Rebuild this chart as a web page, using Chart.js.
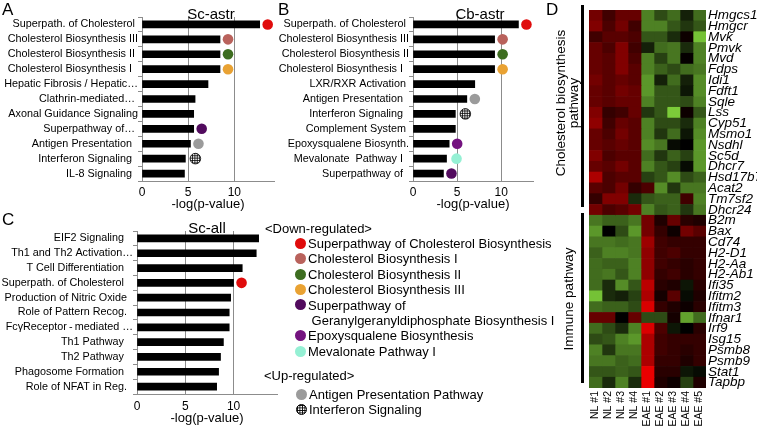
<!DOCTYPE html>
<html>
<head>
<meta charset="utf-8">
<script src="https://cdn.jsdelivr.net/npm/chart.js@4.4.0/dist/chart.umd.min.js"></script>
<style>
  body { margin: 0; background: #fff; font-family: 'Liberation Sans', Arial, sans-serif; color: #000; }
  #fig { position: relative; width: 757px; height: 426px; overflow: hidden; }
  canvas, .t { position: absolute; }
  .t { line-height: 1; white-space: pre; }
  .letter { font-size: 17px; }
  .ptitle { font-size: 15px; transform: translateX(-50%); }
  .lg { position: absolute; font-size: 13px; line-height: 13px; height: 13px; white-space: pre; }
  .dot { position: absolute; width: 11px; height: 11px; border-radius: 50%; }
  .hatch { background-color: #fff; border: 1px solid #000; width: 9px; height: 9px;
    background-image: linear-gradient(#000 1px, transparent 1px), linear-gradient(90deg, #000 1px, transparent 1px);
    background-size: 2.5px 2.5px; }
  .bracket { position: absolute; background: #000; width: 3px; left: 581px; }
  .side { position: absolute; font-size: 13.5px; line-height: 13px; text-align: center; width: 200px;
    transform: translate(-50%, -50%) rotate(-90deg); white-space: pre; }
</style>
</head>
<body>
<div id="fig">
  <canvas id="chartA" width="285" height="215" style="left:0;top:0"></canvas>
  <canvas id="chartB" width="275" height="215" style="left:270px;top:0"></canvas>
  <canvas id="chartC" width="290" height="210" style="left:0;top:216px"></canvas>
  <canvas id="heat" width="172" height="426" style="left:585px;top:0"></canvas>

  <div class="t letter" style="left:2px;top:1px">A</div>
  <div class="t letter" style="left:278px;top:1px">B</div>
  <div class="t letter" style="left:2px;top:211px">C</div>
  <div class="t letter" style="left:546px;top:1px">D</div>

  <div class="t ptitle" style="left:211px;top:6px">Sc-astr</div>
  <div class="t ptitle" style="left:480px;top:6px">Cb-astr</div>
  <div class="t ptitle" style="left:207px;top:220px">Sc-all</div>

  <div class="bracket" style="top:5px;height:202px"></div>
  <div class="bracket" style="top:213px;height:170px"></div>
  <div class="side" style="left:567px;top:103px">Cholesterol biosynthesis
pathway</div>
  <div class="side" style="left:568px;top:299px">Immune pathway</div>

  <div id="legend"></div>
</div>

<script>
// bar panels: categories and -log(p-value)
const labelsA = ['Superpath. of Cholesterol ', 'Cholesterol Biosynthesis III', 'Cholesterol Biosynthesis II ',
  'Cholesterol Biosynthesis I  ', 'Hepatic Fibrosis / Hepatic\u2026', 'Clathrin-mediated\u2026 ',
  'Axonal Guidance Signaling', 'Superpathway of\u2026 ', 'Antigen Presentation  ', 'Interferon Signaling  ', 'IL-8 Signaling  '];
const valuesA = [12.75, 8.45, 8.45, 8.45, 7.15, 5.75, 5.6, 5.6, 5.25, 4.7, 4.6];
const dotsA = ['red', 'rose', 'green', 'orange', null, null, null, 'darkPurple', 'gray', 'hatch', null];

const labelsB = ['Superpath. of Cholesterol ', 'Cholesterol Biosynthesis III', 'Cholesterol Biosynthesis II',
  'Cholesterol Biosynthesis I  ', 'LXR/RXR Activation ', 'Antigen Presentation  ', 'Interferon Signaling  ',
  'Complement System ', 'Epoxysqualene Biosynth.', 'Mevalonate  Pathway I  ', 'Superpathway of  '];
const valuesB = [11.95, 9.25, 9.25, 9.25, 7.0, 6.1, 4.8, 4.8, 4.1, 3.8, 3.45];
const dotsB = ['red', 'rose', 'green', 'orange', null, 'gray', 'hatch', null, 'purple', 'mint', 'darkPurple'];

const labelsC = ['EIF2 Signaling   ', 'Th1 and Th2 Activation\u2026', 'T Cell Differentiation   ',
  'Superpath. of Cholesterol   ', 'Production of Nitric Oxide  ', 'Role of Pattern Recog.  ',
  'Fc\u03b3Receptor\u2009-\u2009mediated \u2026', 'Th1 Pathway   ', 'Th2 Pathway   ', 'Phagosome Formation   ', 'Role of NFAT in Reg.  '];
const valuesC = [12.6, 12.35, 10.9, 10.0, 9.7, 9.55, 9.55, 8.95, 8.65, 8.45, 8.25];
const dotsC = [null, null, null, 'red', null, null, null, null, null, null, null];

const xTicks = [0, 5, 10];

// legend
const downLabels = ['Superpathway of Cholesterol Biosynthesis', 'Cholesterol Biosynthesis I', 'Cholesterol Biosynthesis II',
  'Cholesterol Biosynthesis III', 'Superpathway of', ' Geranylgeranyldiphosphate Biosynthesis I', 'Epoxysqualene Biosynthesis', 'Mevalonate Pathway I'];
const downKeys = ['red', 'rose', 'green', 'orange', 'darkPurple', null, 'purple', 'mint'];
const upLabels = ['Antigen Presentation Pathway', 'Interferon Signaling'];
const upKeys = ['gray', 'hatch'];

// heatmap
const samples = ['NL #1', 'NL #2', 'NL #3', 'NL #4', 'EAE #1', 'EAE #2', 'EAE #3', 'EAE #4', 'EAE #5'];
const genes = ['Hmgcs1', 'Hmgcr', 'Mvk', 'Pmvk', 'Mvd', 'Fdps', 'Idi1', 'Fdft1', 'Sqle', 'Lss', 'Cyp51', 'Msmo1',
  'Nsdhl', 'Sc5d', 'Dhcr7', 'Hsd17b7', 'Acat2', 'Tm7sf2', 'Dhcr24',
  'B2m', 'Bax', 'Cd74', 'H2-D1', 'H2-Aa', 'H2-Ab1', 'Ifi35', 'Ifitm2', 'Ifitm3', 'Ifnar1', 'Irf9', 'Isg15',
  'Psmb8', 'Psmb9', 'Stat1', 'Tapbp'];
// relative expression, red > 0, green < 0
const heatValues = [
  [0.55, 0.35, 0.5, 0.5, -0.6, -0.35, -0.5, -0.15, -0.5],
  [0.6, 0.4, 0.55, 0.35, -0.6, -0.6, -0.4, -0.25, -0.4],
  [0.35, 0.45, 0.45, 0.4, -0.4, -0.4, -0.2, 0.1, -0.9],
  [0.5, 0.4, 0.6, 0.35, -0.15, -0.5, -0.55, -0.2, -0.6],
  [0.5, 0.45, 0.6, 0.4, -0.6, -0.3, -0.55, 0.05, -0.6],
  [0.5, 0.45, 0.6, 0.45, -0.6, -0.45, -0.35, -0.5, -0.55],
  [0.55, 0.45, 0.5, 0.45, -0.7, -0.15, -0.5, -0.15, -0.65],
  [0.5, 0.45, 0.55, 0.5, -0.7, -0.4, -0.4, -0.1, -0.65],
  [0.5, 0.45, 0.5, 0.5, -0.6, -0.4, -0.4, -0.35, -0.6],
  [0.6, 0.3, 0.35, 0.5, -0.25, -0.4, -0.95, 0.1, -0.4],
  [0.65, 0.35, 0.5, 0.45, -0.6, -0.35, -0.35, -0.2, -0.6],
  [0.5, 0.4, 0.55, 0.45, -0.6, -0.25, -0.5, -0.1, -0.65],
  [0.5, 0.45, 0.5, 0.45, -0.65, -0.55, -0.05, 0.0, -0.7],
  [0.6, 0.4, 0.45, 0.45, -0.5, -0.25, -0.45, -0.3, -0.7],
  [0.5, 0.45, 0.55, 0.45, -0.6, -0.4, -0.3, -0.05, -0.7],
  [0.75, 0.4, 0.45, 0.45, -0.3, -0.4, -0.65, -0.35, -0.45],
  [0.45, 0.4, 0.55, 0.3, 0.4, -0.65, -0.25, -0.55, -0.55],
  [0.3, 0.6, 0.6, -0.2, -0.4, -0.45, -0.45, 0.35, -0.6],
  [0.55, 0.4, 0.45, 0.55, -0.6, -0.4, -0.45, -0.25, -0.55],
  [-0.55, -0.45, -0.45, -0.55, 0.55, 0.2, 0.5, 0.25, 0.2],
  [-0.7, 0.0, -0.35, -0.7, 0.55, 0.3, 0.1, 0.55, 0.45],
  [-0.55, -0.55, -0.5, -0.55, 0.7, 0.35, 0.3, 0.3, 0.3],
  [-0.45, -0.6, -0.6, -0.55, 0.65, 0.35, 0.4, 0.3, 0.3],
  [-0.5, -0.45, -0.45, -0.6, 0.65, 0.35, 0.3, 0.25, 0.3],
  [-0.5, -0.55, -0.4, -0.6, 0.65, 0.3, 0.35, 0.25, 0.3],
  [-0.5, -0.2, -0.65, -0.4, 0.8, 0.25, 0.2, -0.1, 0.25],
  [-0.9, -0.2, -0.15, -0.3, 0.75, 0.15, 0.45, -0.05, 0.2],
  [-0.5, -0.45, -0.45, -0.35, 0.9, 0.3, 0.2, 0.1, 0.25],
  [0.5, 0.5, 0.0, 0.5, -0.35, -0.35, 0.15, -0.75, -0.5],
  [-0.5, -0.35, -0.2, -0.6, 0.9, 0.4, -0.1, 0.0, 0.25],
  [-0.35, -0.4, -0.6, -0.7, 0.75, 0.35, 0.3, 0.3, 0.3],
  [-0.6, -0.25, -0.55, -0.55, 0.75, 0.35, 0.3, 0.25, 0.3],
  [-0.55, -0.55, -0.45, -0.5, 0.75, 0.3, 0.3, 0.2, 0.3],
  [-0.4, -0.4, -0.45, -0.4, 0.95, 0.25, 0.25, -0.1, -0.05],
  [-0.5, -0.2, -0.6, -0.2, 0.95, 0.2, 0.1, -0.3, 0.2]
];

const palette = {
  red: '#e00c0c', rose: '#b9625c', green: '#3d6d20', orange: '#e9a233',
  darkPurple: '#520b5e', purple: '#74137f', mint: '#95f0d4', gray: '#9b9b9b'
};
const axisGray = '#8c8c8c';
Chart.defaults.font.family = "'Liberation Sans', Arial, sans-serif";
Chart.defaults.color = '#000';

function drawMarker(ctx, x, y, r, key) {
  ctx.save();
  ctx.beginPath();
  ctx.arc(x, y, r, 0, Math.PI * 2);
  if (key === 'hatch') {
    ctx.fillStyle = '#fff';
    ctx.fill();
    ctx.clip();
    ctx.strokeStyle = '#000';
    ctx.lineWidth = 0.8;
    ctx.beginPath();
    for (let d = -r; d <= r; d += 2.4) {
      ctx.moveTo(x + d, y - r); ctx.lineTo(x + d, y + r);
      ctx.moveTo(x - r, y + d); ctx.lineTo(x + r, y + d);
    }
    ctx.stroke();
    ctx.restore();
    ctx.save();
    ctx.beginPath();
    ctx.arc(x, y, r, 0, Math.PI * 2);
    ctx.lineWidth = 0.8;
    ctx.stroke();
  } else {
    ctx.fillStyle = palette[key];
    ctx.fill();
  }
  ctx.restore();
}

// coloured circles at the end of the bars
const barDots = {
  id: 'barDots',
  afterDatasetsDraw(chart, args, opts) {
    const meta = chart.getDatasetMeta(0);
    opts.keys.forEach((key, i) => {
      if (!key) return;
      const bar = meta.data[i];
      const gap = (key === 'hatch' || key === 'mint') ? 10 : 8;
      drawMarker(chart.ctx, bar.x + gap, bar.y, 5.3, key);
    });
  }
};

function barPanel(id, labels, values, dots, o) {
  return new Chart(document.getElementById(id), {
    type: 'bar',
    data: {
      labels: labels,
      datasets: [{ data: values, backgroundColor: '#000', barThickness: 7 }]
    },
    options: {
      indexAxis: 'y',
      responsive: false,
      animation: false,
      layout: { padding: { top: o.top, right: o.right, left: 0, bottom: 0 } },
      scales: {
        x: {
          min: 0, max: o.max,
          afterBuildTicks: s => { s.ticks = xTicks.map(v => ({ value: v })); },
          ticks: { font: { size: 12 }, padding: o.tickPad, includeBounds: false },
          grid: { color: axisGray, drawTicks: false },
          border: { color: axisGray },
          title: { display: true, text: '-log(p-value)', font: { size: 13 }, padding: { top: 0, bottom: o.titlePad } },
          afterFit: s => { s.height = o.xh; }
        },
        y: {
          ticks: { font: { size: 10.8 }, padding: 0, autoSkip: false },
          grid: { drawOnChartArea: false, color: axisGray, tickLength: 4 },
          border: { color: axisGray },
          afterFit: s => { s.width = o.yw; }
        }
      },
      plugins: {
        legend: { display: false },
        tooltip: { enabled: false },
        barDots: { keys: dots }
      }
    },
    plugins: [barDots]
  });
}

barPanel('chartA', labelsA, valuesA, dotsA, { top: 17, right: 11, max: 14.3, yw: 142, xh: 34, tickPad: 4, titlePad: 3 });
barPanel('chartB', labelsB, valuesB, dotsB, { top: 17, right: 12, max: 13.6, yw: 143, xh: 34, tickPad: 4, titlePad: 3 });
barPanel('chartC', labelsC, valuesC, dotsC, { top: 15, right: 13, max: 14.5, yw: 137, xh: 32, tickPad: 5, titlePad: 0 });

// heatmap as stacked horizontal bars, one dataset per sample column
function heatColor(v) {
  if (v >= 0) return 'rgb(' + Math.round(250 * Math.pow(v, 1.3)) + ',0,0)';
  const a = -v;
  return 'rgb(' + Math.round(130 * a) + ',' + Math.round(215 * a) + ',' + Math.round(60 * a) + ')';
}

new Chart(document.getElementById('heat'), {
  type: 'bar',
  data: {
    labels: genes,
    datasets: samples.map((s, j) => ({
      label: s,
      data: genes.map(() => 1),
      backgroundColor: heatValues.map(row => heatColor(row[j])),
      barPercentage: 1,
      categoryPercentage: 1,
      borderWidth: 0
    }))
  },
  options: {
    indexAxis: 'y',
    responsive: false,
    animation: false,
    layout: { padding: { left: 4, top: 3, right: 0, bottom: 0 } },
    scales: {
      x: { stacked: true, min: 0, max: samples.length, display: false },
      y: {
        stacked: true, position: 'right',
        grid: { display: false, drawTicks: false }, border: { display: false },
        ticks: { font: { size: 13.5, style: 'italic' }, padding: 2, autoSkip: false },
        afterFit: s => { s.width = 51; }
      },
      x2: {
        type: 'category', labels: samples, position: 'bottom', offset: true,
        grid: { display: false, drawTicks: false }, border: { display: false },
        ticks: { font: { size: 10.5 }, minRotation: 90, maxRotation: 90, padding: 3, autoSkip: false },
        afterFit: s => { s.height = 38; }
      }
    },
    plugins: { legend: { display: false }, tooltip: { enabled: false } }
  }
});

// legend to the right of panel C
const legend = document.getElementById('legend');
function addText(text, left, center) {
  const d = document.createElement('div');
  d.className = 'lg';
  d.style.left = left + 'px';
  d.style.top = (center - 6.4) + 'px';
  d.textContent = text;
  legend.appendChild(d);
}
function addDot(key, cx, cy) {
  const d = document.createElement('div');
  d.className = 'dot' + (key === 'hatch' ? ' hatch' : '');
  if (key !== 'hatch') d.style.background = palette[key];
  d.style.left = (cx - 5.5) + 'px';
  d.style.top = (cy - 5.5) + 'px';
  legend.appendChild(d);
}
addText('<Down-regulated>', 265, 228);
downLabels.forEach((t, i) => {
  const cy = 243.3 + i * 15.4;
  if (downKeys[i]) addDot(downKeys[i], 300, cy);
  addText(t, 308, cy);
});
addText('<Up-regulated>', 264, 375);
upLabels.forEach((t, i) => {
  const cy = 394 + i * 15.6;
  addDot(upKeys[i], 301, cy);
  addText(t, 309, cy);
});
</script>
</body>
</html>
